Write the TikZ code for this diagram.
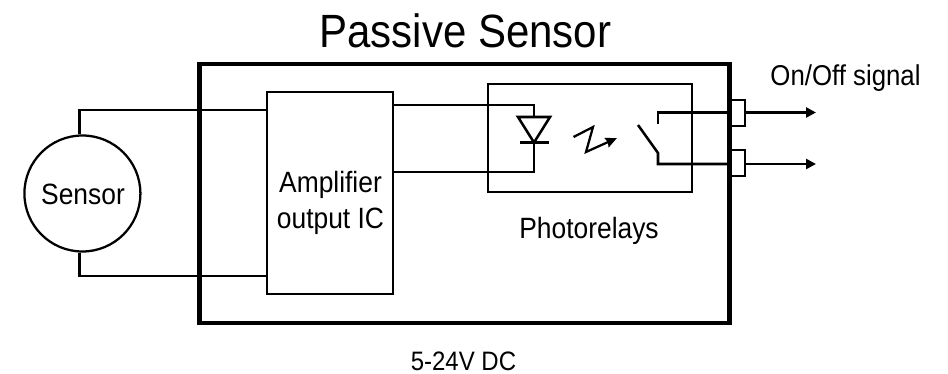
\documentclass[tikz,border=0pt]{standalone}
\usepackage{fontspec}
\setmainfont[FakeStretch=0.9]{Liberation Sans}
\usetikzlibrary{arrows.meta}
\tikzset{
  wire/.style={draw=black,line width=1.9pt,line join=miter},
  sig/.style={wire,-{Triangle[length=7.5pt,width=7.5pt]}},
  boxb/.style={draw=black,line width=1.6pt,inner sep=0pt,fill=none},
  outerb/.style={draw=black,line width=3.7pt,inner sep=0pt},
  lab/.style={font=\fontsize{22pt}{27.5pt}\selectfont,align=center,text=black,inner sep=0pt},
}
\begin{document}
\begin{tikzpicture}[x=0.75pt,y=-0.75pt]
\useasboundingbox (0,0) rectangle (948,374);
\node[lab,font=\fontsize{35pt}{40pt}\selectfont] (title) at (465.5,31) {Passive Sensor};
\node[outerb,minimum width=397pt,minimum height=194.25pt] (outer) at (464.5,193.5) {};
\node[boxb,minimum width=94.5pt,minimum height=151.5pt] (amp) at (330,193) {};
\node[lab] (amplabel) at (330.5,203) {Amplifier\\output IC};
\node[boxb,minimum width=153pt,minimum height=81pt] (relay) at (590,138) {};
\node[lab] (relaylabel) at (589,231) {Photorelays};
\node[lab,font=\fontsize{20pt}{25pt}\selectfont] (supply) at (463.5,361) {5-24V DC};
\node[lab,font=\fontsize{21.5pt}{25pt}\selectfont] (signal) at (845.5,78) {On/Off signal};
\node[draw=black,line width=1.7pt,circle,minimum size=87pt,inner sep=0pt] (sensor) at (82.4,193.5) {};
\node[lab] (sensorlabel) at (83,194.5) {Sensor};
% terminals
\node[boxb,minimum width=12pt,minimum height=19.5pt] (t1) at (737,113) {};
\node[boxb,minimum width=12pt,minimum height=19.5pt] (t2) at (737,163) {};
% sensor wires
\coordinate (s1) at (267,110);
\coordinate (s2) at (267,276);
\draw[wire] (sensor.93) -- (sensor.93 |- s1) -- (s1);
\draw[wire] (sensor.267) -- (sensor.267 |- s2) -- (s2);
% LED
\coordinate (a1) at (393,105);
\coordinate (a2) at (393,172);
\coordinate (ledt) at (534,117);
\coordinate (ledb) at (534,142.5);
\draw[wire] (a1) -- (a1 -| ledt) -- (ledt);
\draw[wire] (ledb) -- (ledb |- a2) -- (a2);
\draw[wire] (518,117) -- (550,117) -- (534,142.5) -- cycle;
\draw[wire] (520,142.5) -- (549,142.5);
% light
\draw[line width=1.7pt,-{Stealth[length=8.5pt,width=7.5pt,inset=1pt]}] (573.5,137) -- (593,127) -- (586,152) -- (617,138);
% switch
\coordinate (c1) at (658,124);
\coordinate (c2) at (658,112.5);
\coordinate (b1) at (638,125);
\coordinate (b2) at (658,153);
\coordinate (b3) at (658,164);
\coordinate (out1) at (816,112.5);
\coordinate (out2) at (816,164);
\draw[wire] (c1) -- (c2) -- (t1.west |- c2);
\draw[wire] (b1) -- (b2) -- (b3) -- (t2.west |- b3);
\draw[sig] (t1.east |- c2) -- (out1);
\draw[sig] (t2.east |- b3) -- (out2);
\end{tikzpicture}
\end{document}
